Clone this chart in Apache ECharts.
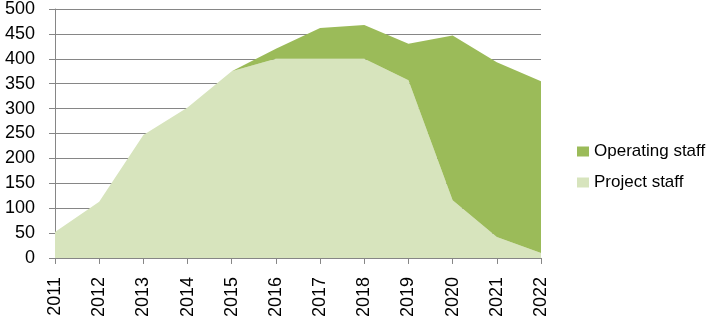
<!DOCTYPE html>
<html>
<head>
<meta charset="utf-8">
<script src="https://cdn.jsdelivr.net/npm/echarts@6/dist/echarts.min.js"></script>
<style>
  html, body { margin: 0; padding: 0; background: #fff; }
  #chart { width: 706px; height: 320px; }
</style>
</head>
<body>
<div id="chart"></div>
<script>
var years = ['2011', '2012', '2013', '2014', '2015', '2016', '2017', '2018', '2019', '2020', '2021', '2022'];
// bottom layer
var projectStaff = [52, 113, 247, 302, 375, 400, 400, 400, 357, 116, 42, 10];
// stacked on top of project staff
var operatingStaff = [0, 0, 0, 0, 0, 20, 62, 68, 73, 331, 351, 345];
var yTicks = { min: 0, max: 500, interval: 50 };

var chart = echarts.init(document.getElementById('chart'));
var font = 'Liberation Sans, Arial, sans-serif';

chart.setOption({
    animation: false,
    grid: { left: 55, right: 165, top: 7, bottom: 62, containLabel: false },
    legend: {
        orient: 'vertical',
        left: 572,
        top: 138,
        itemWidth: 12,
        itemHeight: 10,
        itemGap: 14,
        icon: 'rect',
        data: ['Operating staff', 'Project staff'],
        textStyle: { fontFamily: font, fontSize: 17, color: '#000' }
    },
    xAxis: {
        type: 'category',
        data: years,
        boundaryGap: false,
        axisLine: { lineStyle: { color: '#868686' } },
        axisTick: { show: true, length: 6, lineStyle: { color: '#868686' } },
        axisLabel: { rotate: 90, margin: 19, fontFamily: font, fontSize: 18, color: '#000', interval: 0 }
    },
    yAxis: {
        type: 'value',
        min: yTicks.min,
        max: yTicks.max,
        interval: yTicks.interval,
        axisLine: { show: true, lineStyle: { color: '#868686' } },
        axisTick: { show: true, length: 6, lineStyle: { color: '#868686' } },
        splitLine: { lineStyle: { color: '#868686' } },
        axisLabel: { margin: 20, fontFamily: font, fontSize: 18, color: '#000' }
    },
    series: [
        {
            name: 'Project staff',
            type: 'line',
            stack: 'staff',
            data: projectStaff,
            symbol: 'none',
            lineStyle: { width: 0 },
            itemStyle: { color: '#D7E4BD' },
            areaStyle: { color: '#D7E4BD', opacity: 1 }
        },
        {
            name: 'Operating staff',
            type: 'line',
            stack: 'staff',
            data: operatingStaff,
            symbol: 'none',
            lineStyle: { width: 0 },
            itemStyle: { color: '#9BBB59' },
            areaStyle: { color: '#9BBB59', opacity: 1 }
        }
    ]
});
window.addEventListener('resize', function () { chart.resize(); });
</script>
</body>
</html>
